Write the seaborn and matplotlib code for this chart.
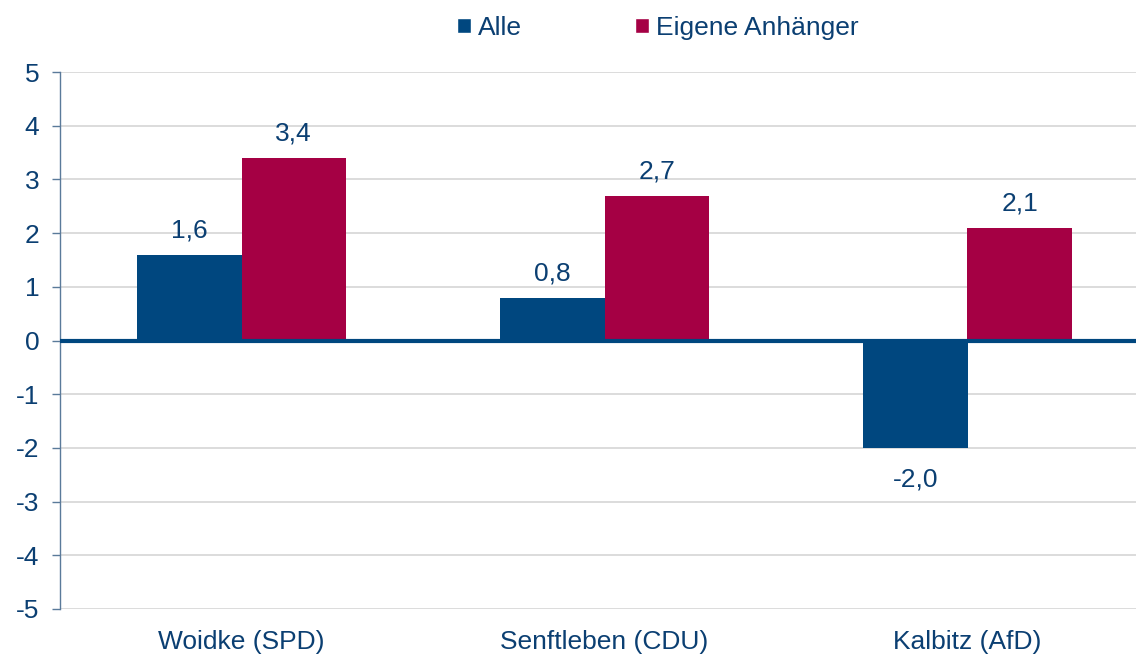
import matplotlib
matplotlib.use("Agg")
import matplotlib.pyplot as plt
import seaborn as sns
import pandas as pd
from matplotlib.patches import Patch

categories = ["Woidke (SPD)", "Senftleben (CDU)", "Kalbitz (AfD)"]
series_names = ["Alle", "Eigene Anhänger"]
alle = [1.6, 0.8, -2.0]
eigene = [3.4, 2.7, 2.1]
yticks = [-5, -4, -3, -2, -1, 0, 1, 2, 3, 4, 5]

BLUE = "#00477F"
RED = "#A50044"
TXT = "#0B3F72"
FS = 19

df = pd.DataFrame({
    "Kandidat": categories * 2,
    "Gruppe": [series_names[0]] * 3 + [series_names[1]] * 3,
    "Wert": alle + eigene,
})

sns.set_theme(style="white")
plt.rcParams["font.family"] = ["Liberation Sans", "DejaVu Sans"]

fig = plt.figure(figsize=(11.36, 6.55), dpi=100)
ax = fig.add_axes([60 / 1136, 1 - 609 / 655, 1089 / 1136, (609 - 72) / 655])

sns.barplot(data=df, x="Kandidat", y="Wert", hue="Gruppe", order=categories,
            hue_order=series_names, palette=[BLUE, RED], width=0.575,
            saturation=1, ax=ax, legend=False, linewidth=0)

ax.set_ylim(-5, 5)
ax.set_xlim(-0.5, 2.5)
ax.set_yticks(yticks)
ax.set_yticklabels([str(t) for t in yticks])
ax.yaxis.grid(True, color="#D9D9D9", linewidth=1.3)
ax.set_axisbelow(True)
ax.axhline(0, color=BLUE, linewidth=3, zorder=5)
ax.set_xlabel("")
ax.set_ylabel("")
for s in ["top", "right", "bottom"]:
    ax.spines[s].set_visible(False)
ax.spines["left"].set_color("#5A7A9A")
ax.spines["left"].set_linewidth(1)
ax.tick_params(axis="y", which="major", left=True, length=6, width=1,
               color="#5A7A9A", labelsize=FS, labelcolor=TXT, pad=9)
ax.tick_params(axis="x", bottom=False, labelsize=FS, labelcolor=TXT, pad=9)

for cont in ax.containers:
    vals = cont.datavalues
    pos = [f"{v:.1f}".replace(".", ",") if v >= 0 else "" for v in vals]
    neg = [f"{v:.1f}".replace(".", ",") if v < 0 else "" for v in vals]
    ax.bar_label(cont, labels=pos, padding=9, fontsize=FS, color=TXT)
    ax.bar_label(cont, labels=neg, padding=14, fontsize=FS, color=TXT)

handles = [Patch(facecolor=BLUE, label=series_names[0]),
           Patch(facecolor=RED, label=series_names[1])]
fig.legend(handles=handles, loc="center left", bbox_to_anchor=(457 / 1136, 1 - 28 / 655),
           ncol=2, frameon=False, fontsize=FS, handlelength=0.53, handleheight=0.53,
           handletextpad=0.25, columnspacing=4.3, labelcolor=TXT,
           borderpad=0, borderaxespad=0)

fig.savefig("out.png", dpi=100)
